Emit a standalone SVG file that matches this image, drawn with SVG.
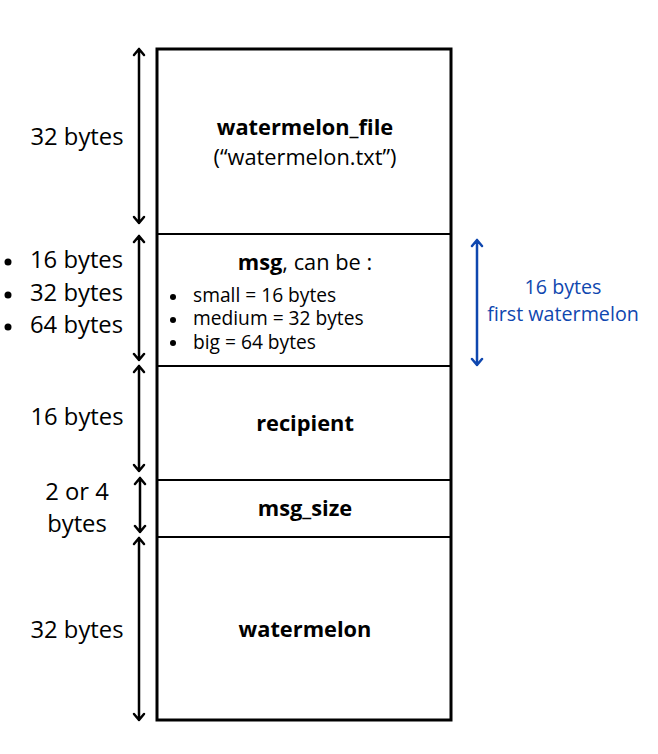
<svg xmlns="http://www.w3.org/2000/svg" width="658" height="754" viewBox="0 0 658 754">
<style>
text{font-family:"Open Sans","Noto Sans","Liberation Sans",sans-serif;fill:#000}
.lbl{font-size:23.8px;text-anchor:middle}
.bl{font-size:23.8px}
.ttl{font-size:21.8px;font-weight:bold;text-anchor:middle}
.sub{font-size:21.8px;text-anchor:middle}
.li{font-size:19.2px}
.blue{fill:#0f47af;font-size:19.7px;text-anchor:middle}
.box{fill:#fff;stroke:#000;stroke-width:2}
.arr{stroke:#000;stroke-width:2.5;fill:none;stroke-linecap:round;stroke-linejoin:round}
.arrb{stroke:#0f47af;stroke-width:2.5;fill:none;stroke-linecap:round;stroke-linejoin:round}
</style>
<rect width="658" height="754" fill="#fff"/>
<g id="watermelon_file">
<rect class="box" x="157" y="49" width="294" height="185"/>
<text class="ttl" x="305" y="135">watermelon_file</text>
<text class="sub" x="305" y="165">(“watermelon.txt”)</text>
</g>
<g id="msg">
<rect class="box" x="157" y="234" width="294" height="132"/>
<text x="305" y="270" style="font-size:21.8px;text-anchor:middle"><tspan font-weight="bold">msg</tspan>, can be :</text>
<circle cx="173" cy="297" r="3"/><text class="li" x="193" y="302">small = 16 bytes</text>
<circle cx="173" cy="320" r="3"/><text class="li" x="193" y="325">medium = 32 bytes</text>
<circle cx="173" cy="343" r="3"/><text class="li" x="193" y="349">big = 64 bytes</text>
</g>
<g id="recipient">
<rect class="box" x="157" y="366" width="294" height="114"/>
<text class="ttl" x="305" y="431">recipient</text>
</g>
<g id="msg_size">
<rect class="box" x="157" y="480" width="294" height="57"/>
<text class="ttl" x="305" y="516">msg_size</text>
</g>
<g id="watermelon">
<rect class="box" x="157" y="537" width="294" height="183"/>
<text class="ttl" x="305" y="637">watermelon</text>
</g>
<rect x="157" y="49" width="294" height="671" fill="none" stroke="#000" stroke-width="3"/>
<g id="labels">
<text class="lbl" x="77" y="145">32 bytes</text>
<circle cx="8" cy="262" r="3.5"/><text class="bl" x="30" y="268">16 bytes</text>
<circle cx="8" cy="295" r="3.5"/><text class="bl" x="30" y="301">32 bytes</text>
<circle cx="8" cy="327" r="3.5"/><text class="bl" x="30" y="333">64 bytes</text>
<text class="lbl" x="77" y="425">16 bytes</text>
<text class="lbl" x="77" y="500">2 or 4</text>
<text class="lbl" x="77" y="532">bytes</text>
<text class="lbl" x="77" y="638">32 bytes</text>
<text class="blue" x="563" y="294">16 bytes</text>
<text class="blue" x="563" y="321">first watermelon</text>
</g>
<g id="connectors">
<path class="arr" d="M139 49V223M134 55L139 49L144 55M134 217L139 223L144 217"/>
<path class="arr" d="M139 236V360M134 242L139 236L144 242M134 354L139 360L144 354"/>
<path class="arr" d="M139 366V471M134 372L139 366L144 372M134 465L139 471L144 465"/>
<path class="arr" d="M140 478V532M135 484L140 478L145 484M135 526L140 532L145 526"/>
<path class="arr" d="M139 538V720M134 544L139 538L144 544M134 714L139 720L144 714"/>
<path class="arrb" d="M477 240V365M472 246L477 240L482 246M472 359L477 365L482 359"/>
</g>
</svg>
